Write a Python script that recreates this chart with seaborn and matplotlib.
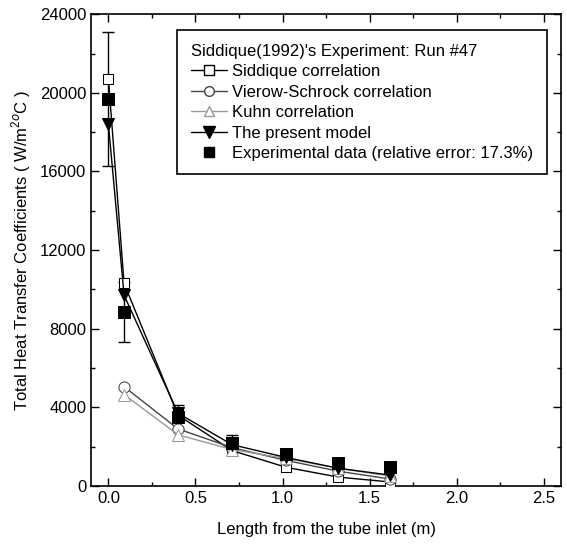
import matplotlib
matplotlib.use('Agg')
import matplotlib.pyplot as plt
from matplotlib.ticker import MultipleLocator
from matplotlib.lines import Line2D
import seaborn as sns
import pandas as pd
import numpy as np

# values
x_all = [0.0, 0.09, 0.40, 0.71, 1.02, 1.32, 1.62]
x_corr = [0.09, 0.40, 0.71, 1.02, 1.32, 1.62]

siddique = [20700, 10300, 3600, 1800, 950, 450, 200]
vierow = [5050, 2900, 1950, 1300, 750, 350]
kuhn = [4650, 2600, 1850, 1400, 900, 500]
model = [18400, 9700, 3700, 2100, 1450, 900, 550]
experiment = [19700, 8850, 3500, 2200, 1600, 1150, 950]
rel_err = 0.173

sns.set_style('ticks')
plt.rcParams['font.family'] = ['Liberation Sans', 'DejaVu Sans']
plt.rcParams['mathtext.fontset'] = 'custom'
plt.rcParams['mathtext.rm'] = 'Liberation Sans'
plt.rcParams['xtick.direction'] = 'in'
plt.rcParams['ytick.direction'] = 'in'
plt.rcParams['text.color'] = 'black'
plt.rcParams['axes.labelcolor'] = 'black'
plt.rcParams['xtick.color'] = 'black'
plt.rcParams['ytick.color'] = 'black'

fig = plt.figure(figsize=(5.67, 5.46), dpi=100)
ax = fig.add_axes([0.1605, 0.110, 0.829, 0.864])

ms = 7
sns.lineplot(x=x_all, y=siddique, ax=ax, color='black', lw=1, marker='s',
             markersize=ms, markerfacecolor='white', markeredgecolor='black', zorder=3)
sns.lineplot(x=x_corr, y=vierow, ax=ax, color='#444444', lw=1, marker='o',
             markersize=ms + 1, markerfacecolor='white', markeredgecolor='#444444', zorder=3)
sns.lineplot(x=x_corr, y=kuhn, ax=ax, color='#999999', lw=1, marker='^',
             markersize=ms + 1, markerfacecolor='white', markeredgecolor='#999999', zorder=3)
sns.lineplot(x=x_all, y=model, ax=ax, color='black', lw=1, marker='v',
             markersize=ms + 2, markerfacecolor='black', markeredgecolor='black', zorder=4)

err = np.array(experiment) * rel_err
ax.errorbar(x_all, experiment, yerr=err, fmt='none', ecolor='black',
            elinewidth=1, capsize=4, capthick=1, zorder=2)
sns.scatterplot(x=x_all, y=experiment, ax=ax, color='black', marker='s',
                s=75, edgecolor='black', zorder=5)

ax.set_xlim(-0.1, 2.6)
ax.set_ylim(0, 24000)
ax.xaxis.set_major_locator(MultipleLocator(0.5))
ax.xaxis.set_minor_locator(MultipleLocator(0.25))
ax.yaxis.set_major_locator(MultipleLocator(4000))
ax.yaxis.set_minor_locator(MultipleLocator(2000))
ax.tick_params(which='both', top=True, right=True, labelsize=12, width=1)
ax.tick_params(which='major', length=6)
ax.tick_params(which='minor', length=3)
for s in ax.spines.values():
    s.set_linewidth(1.2)
    s.set_color('black')

ax.set_xlabel('Length from the tube inlet (m)', fontsize=12, labelpad=12)
ax.set_ylabel(r'Total Heat Transfer Coefficients ( W/m$^{2o}$C )', fontsize=12, labelpad=5)

handles = [
    Line2D([], [], color='black', lw=1, marker='s', markersize=ms,
           markerfacecolor='white'),
    Line2D([], [], color='#444444', lw=1, marker='o', markersize=ms,
           markerfacecolor='white'),
    Line2D([], [], color='#999999', lw=1, marker='^', markersize=ms,
           markerfacecolor='white'),
    Line2D([], [], color='black', lw=1, marker='v', markersize=ms + 1,
           markerfacecolor='black'),
    Line2D([], [], color='black', lw=0, marker='s', markersize=ms),
]
labels = ['Siddique correlation', 'Vierow-Schrock correlation', 'Kuhn correlation',
          'The present model', 'Experimental data (relative error: 17.3%)']
leg = ax.legend(handles, labels, title="Siddique(1992)'s Experiment: Run #47",
                loc='upper right', bbox_to_anchor=(0.970, 0.966), fontsize=12,
                title_fontsize=12, frameon=True, fancybox=False, alignment='left',
                handlelength=2.2, handletextpad=0.3, labelspacing=0.33,
                borderpad=0.8, borderaxespad=0)
leg.get_frame().set_edgecolor('black')
leg.get_frame().set_linewidth(1.2)
leg.get_frame().set_alpha(1)

fig.savefig('out.png', dpi=100)
